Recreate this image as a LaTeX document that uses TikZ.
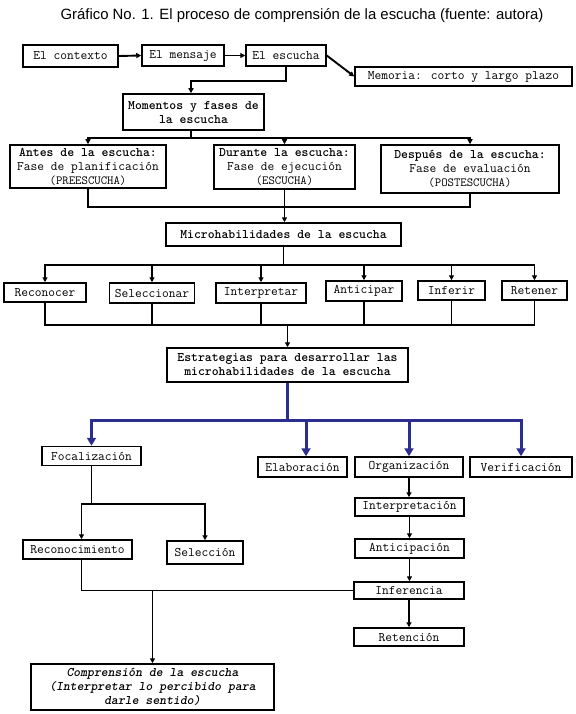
\documentclass[tikz,border=0pt]{standalone}
\usepackage{fontspec}
\newfontfamily\titre{Liberation Sans}
\usetikzlibrary{arrows.meta}
\definecolor{bleu}{RGB}{43,45,145}
\newcommand{\txt}{\ttfamily\fontsize{13.1}{14}\selectfont}
\newcommand{\petit}{\fontsize{12.4}{13}\selectfont}

\begin{document}
\begin{tikzpicture}[x=1pt,y=-1pt,
    caja/.style={draw,line width=1.5pt,inner sep=0pt,align=center,font=\txt},
    trait/.style={line width=1.9pt},
    fl/.style={trait,-{Triangle[length=5pt,width=5pt]}},
    fleb/.style={draw=bleu,line width=3pt,-{Triangle[length=8pt,width=9pt]}}]
  \useasboundingbox (0,0) rectangle (575,714);
  % titre
  \node[font=\titre\fontsize{14.9}{16}\selectfont] (titulo) at (302,16)
    {Gráfico No. 1. El proceso de comprensión de la escucha (fuente: autora)};
  % ligne du haut
  \node[caja,minimum width=95,minimum height=22] (contexto) at (70.5,56) {El contexto};
  \node[caja,minimum width=82,minimum height=21] (mensaje) at (183,55.5) {El mensaje};
  \node[caja,minimum width=80,minimum height=21] (escucha) at (286,55.5) {El escucha};
  \node[caja,minimum width=217,minimum height=19] (memoria) at (463.5,76.5) {Memoria: corto y largo plazo};
  \draw[fl] (contexto.east) -- (mensaje.west);
  \draw[fl] (mensaje.east) -- (escucha.west);
  \draw[fl] (escucha.east) -- (memoria.west);
  % momentos y fases
  \node[caja,minimum width=141,minimum height=36,font=\txt\bfseries,text depth=0pt] (momentos) at (193.5,112)
    {Momentos y fases de\\la escucha};
  \draw[fl] (escucha.south) -- ++(0,14) -| ([xshift=-2.5pt]momentos.north);
  \node[caja,minimum width=156,minimum height=43] (antes) at (88,166.5)
    {\textbf{Antes de la escucha:}\\Fase de planificación\\{\petit(PREESCUCHA)}};
  \node[caja,minimum width=141,minimum height=44] (durante) at (284.5,167)
    {\textbf{Durante la escucha:}\\Fase de ejecución\\{\petit(ESCUCHA)}};
  \node[caja,minimum width=178,minimum height=48] (despues) at (470,169)
    {\textbf{Después de la escucha:}\\Fase de evaluación\\{\petit(POSTESCUCHA)}};
  \draw[trait] ([xshift=-2.5pt]momentos.south) -- ++(0,7) coordinate (m1);
  \foreach \n in {antes,durante,despues}
    \draw[fl] (m1) -| (\n.north);
  % microhabilidades
  \node[caja,minimum width=235,minimum height=23,font=\txt\bfseries] (micro) at (283.5,234.5)
    {Microhabilidades de la escucha};
  \draw[trait] (antes.south) -- ++(0,18) coordinate (c1) -| (despues.south);
  \draw[fl] (durante.south) -- (durante.south |- micro.north);
  \node[caja,minimum width=82,minimum height=19] (reconocer) at (45,292.5) {Reconocer};
  \node[caja,minimum width=85,minimum height=20] (seleccionar) at (152,293) {Seleccionar};
  \node[caja,minimum width=90,minimum height=20] (interpretar) at (261,293) {Interpretar};
  \node[caja,minimum width=76,minimum height=20] (anticipar) at (364,291) {Anticipar};
  \node[caja,minimum width=67,minimum height=19] (inferir) at (451.5,290.5) {Inferir};
  \node[caja,minimum width=65,minimum height=19] (retener) at (534.5,290.5) {Retener};
  \draw[trait] (micro.south) -- ++(0,18) coordinate (m2);
  \foreach \n in {reconocer,seleccionar,interpretar,anticipar,inferir,retener}
    \draw[fl] (m2) -| (\n.north);
  % estrategias
  \node[caja,minimum width=241,minimum height=34,font=\txt\bfseries] (estrategias) at (287.5,365)
    {Estrategias para desarrollar las\\microhabilidades de la escucha};
  \draw[trait] (reconocer.south) -- ++(0,22) coordinate (c2) -| (retener.south);
  \foreach \n in {seleccionar,interpretar,anticipar,inferir}
    \draw[trait] (\n.south) -- (\n.south |- c2);
  \draw[fl] (estrategias.north |- c2) -- (estrategias.north);
  % lignes bleues
  \node[caja,minimum width=99,minimum height=19] (focalizacion) at (91.5,456) {Focalización};
  \node[caja,minimum width=89,minimum height=20] (elaboracion) at (302.5,467) {Elaboración};
  \node[caja,minimum width=108,minimum height=20] (organizacion) at (409,467) {Organización};
  \node[caja,minimum width=102,minimum height=20] (verificacion) at (521,467) {Verificación};
  \draw[draw=bleu,line width=3pt] (estrategias.south) -- ++(0,38) coordinate (m3);
  \draw[fleb] (m3) -| (focalizacion.north);
  \draw[fleb] (m3) -| ([xshift=3.5pt]elaboracion.north);
  \draw[fleb] (m3) -| (organizacion.north);
  \draw[fleb] (m3) -| (verificacion.north);
  % focalizacion
  \node[caja,minimum width=109,minimum height=19] (reconocimiento) at (77.5,549.5) {Reconocimiento};
  \node[caja,minimum width=76,minimum height=23] (seleccion) at (205,552.5) {Selección};
  \draw[trait] (focalizacion.south) -- ++(0,38) coordinate (m4);
  \draw[fl] (m4) -| ([xshift=4pt]reconocimiento.north);
  \draw[fl] (m4) -| (seleccion.north);
  % organizacion
  \node[caja,minimum width=109,minimum height=18] (interpretacion) at (409.5,507) {Interpretación};
  \node[caja,minimum width=109,minimum height=19] (anticipacion) at (409.5,548.5) {Anticipación};
  \node[caja,minimum width=110,minimum height=17] (inferencia) at (409,590.5) {Inferencia};
  \node[caja,minimum width=110,minimum height=18] (retencion) at (409,637) {Retención};
  \foreach \a/\b in {organizacion/interpretacion,interpretacion/anticipacion,
      anticipacion/inferencia,inferencia/retencion}
    \draw[fl] (\a.south) -- (\a.south |- \b.north);
  % comprension
  \node[caja,minimum width=243,minimum height=46,font=\txt\bfseries\itshape] (comprension) at (152.5,687)
    {Comprensión de la escucha\\(Interpretar lo percibido para\\darle sentido)};
  \draw[trait] ([xshift=4pt]reconocimiento.south) |- (inferencia.west);
  \draw[fl] (comprension.north |- inferencia.west) -- (comprension.north);
\end{tikzpicture}
\end{document}
